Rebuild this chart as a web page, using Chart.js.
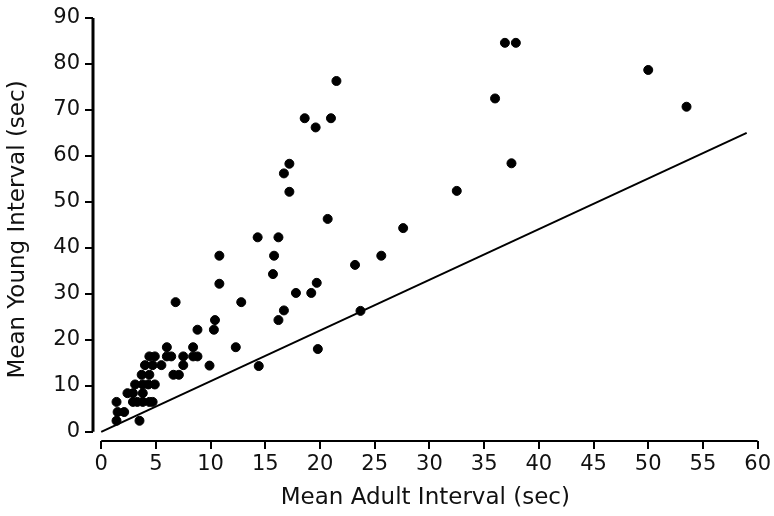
<!DOCTYPE html>
<html>
<head>
<meta charset="utf-8">
<script src="https://cdn.jsdelivr.net/npm/chart.js@4"></script>
<style>
  html, body { margin: 0; padding: 0; background: #fff; }
  #wrap { width: 774px; height: 516px; }
</style>
</head>
<body>
<div id="wrap"><canvas id="chart" width="774" height="516"></canvas></div>
<script>
// mean adult interval (sec) for each observation
var adultX = [
    36.9, 37.9, 36.0, 37.5, 32.5, 27.6, 21.5, 18.6, 19.6, 21.0,
    17.2, 16.7, 17.2, 20.7, 16.2, 14.3, 15.8, 15.7, 23.2, 25.6,
    19.7, 17.8, 19.2, 50.0, 53.5, 10.8, 10.8, 6.8, 12.8, 16.7,
    16.2, 23.7, 10.4, 8.8, 10.3, 12.3, 14.4, 9.9, 19.8,
    6.0, 8.4,
    4.4, 4.9, 6.0, 6.4, 7.5, 8.4, 8.8,
    4.0, 4.7, 5.5, 7.5,
    3.7, 4.4, 6.6, 7.1,
    3.1, 3.8, 4.3, 4.9,
    2.4, 2.9, 3.8,
    1.4, 2.9, 3.3, 3.8, 4.4, 4.7,
    1.5, 2.1,
    1.4, 3.5
];
// mean young interval (sec), same order
var youngY = [
    84.6, 84.6, 72.5, 58.4, 52.4, 44.3, 76.3, 68.2, 66.2, 68.2,
    58.3, 56.2, 52.2, 46.3, 42.3, 42.3, 38.3, 34.3, 36.3, 38.3,
    32.4, 30.2, 30.2, 78.7, 70.7, 38.3, 32.2, 28.2, 28.2, 26.4,
    24.3, 26.3, 24.3, 22.2, 22.2, 18.4, 14.3, 14.4, 18.0,
    18.4, 18.4,
    16.4, 16.4, 16.4, 16.4, 16.4, 16.4, 16.4,
    14.5, 14.5, 14.5, 14.5,
    12.4, 12.4, 12.4, 12.4,
    10.3, 10.3, 10.3, 10.3,
    8.4, 8.4, 8.4,
    6.5, 6.5, 6.5, 6.5, 6.5, 6.5,
    4.3, 4.3,
    2.4, 2.4
];
// fitted line end points
var lineX = [0, 59];
var lineY = [0, 65];

var xTicks = [0, 5, 10, 15, 20, 25, 30, 35, 40, 45, 50, 55, 60];
var yTicks = [0, 10, 20, 30, 40, 50, 60, 70, 80, 90];

var tickFont = { family: 'DejaVu Sans', size: 21 };
var titleFont = { family: 'DejaVu Sans', size: 23 };

var points = adultX.map(function (x, i) { return { x: x, y: youngY[i] }; });
var linePts = lineX.map(function (x, i) { return { x: x, y: lineY[i] }; });

// axis lines only over the 0..60 / 0..90 range
var axisLines = {
    id: 'axisLines',
    afterDraw: function (chart) {
        var ctx = chart.ctx;
        var xs = chart.scales.x, ys = chart.scales.y;
        ctx.save();
        ctx.strokeStyle = '#000';
        ctx.lineWidth = 2;
        ctx.beginPath();
        ctx.moveTo(xs.getPixelForValue(0), chart.chartArea.bottom);
        ctx.lineTo(xs.getPixelForValue(60), chart.chartArea.bottom);
        ctx.stroke();
        ctx.lineWidth = 3;
        ctx.beginPath();
        ctx.moveTo(chart.chartArea.left, ys.getPixelForValue(0));
        ctx.lineTo(chart.chartArea.left, ys.getPixelForValue(90));
        ctx.stroke();
        ctx.restore();
    }
};

var ctx = document.getElementById('chart').getContext('2d');
var chart = new Chart(ctx, {
    type: 'scatter',
    data: {
        datasets: [
            {
                label: 'observations',
                data: points,
                backgroundColor: '#000',
                borderColor: '#000',
                pointRadius: 4.5,
                pointHoverRadius: 4.5
            },
            {
                type: 'line',
                label: 'fit',
                data: linePts,
                borderColor: '#000',
                borderWidth: 2,
                pointRadius: 0,
                fill: false
            }
        ]
    },
    options: {
        responsive: false,
        animation: false,
        layout: { padding: { left: 0, top: 18, right: 15, bottom: 0 } },
        plugins: {
            legend: { display: false },
            tooltip: { enabled: false }
        },
        scales: {
            x: {
                type: 'linear',
                min: -0.75,
                max: 60,
                afterBuildTicks: function (scale) {
                    scale.ticks = xTicks.map(function (v) { return { value: v }; });
                },
                afterFit: function (scale) { scale.height = 75; },
                border: { display: false },
                grid: { drawOnChartArea: false, drawTicks: true, tickLength: 8, color: '#000', lineWidth: 2 },
                ticks: { color: '#111', font: tickFont, padding: 3, maxRotation: 0 },
                title: { display: true, text: 'Mean Adult Interval (sec)', color: '#111', font: titleFont, padding: { top: 2 } }
            },
            y: {
                type: 'linear',
                min: -2,
                max: 90,
                afterBuildTicks: function (scale) {
                    scale.ticks = yTicks.map(function (v) { return { value: v }; });
                },
                afterFit: function (scale) { scale.width = 93; },
                border: { display: false },
                grid: { drawOnChartArea: false, drawTicks: true, tickLength: 8, color: '#000', lineWidth: 2 },
                ticks: { color: '#111', font: tickFont, padding: 5 },
                title: { display: true, text: 'Mean Young Interval (sec)', color: '#111', font: titleFont, padding: { bottom: 4 } }
            }
        }
    },
    plugins: [axisLines]
});
</script>
</body>
</html>
